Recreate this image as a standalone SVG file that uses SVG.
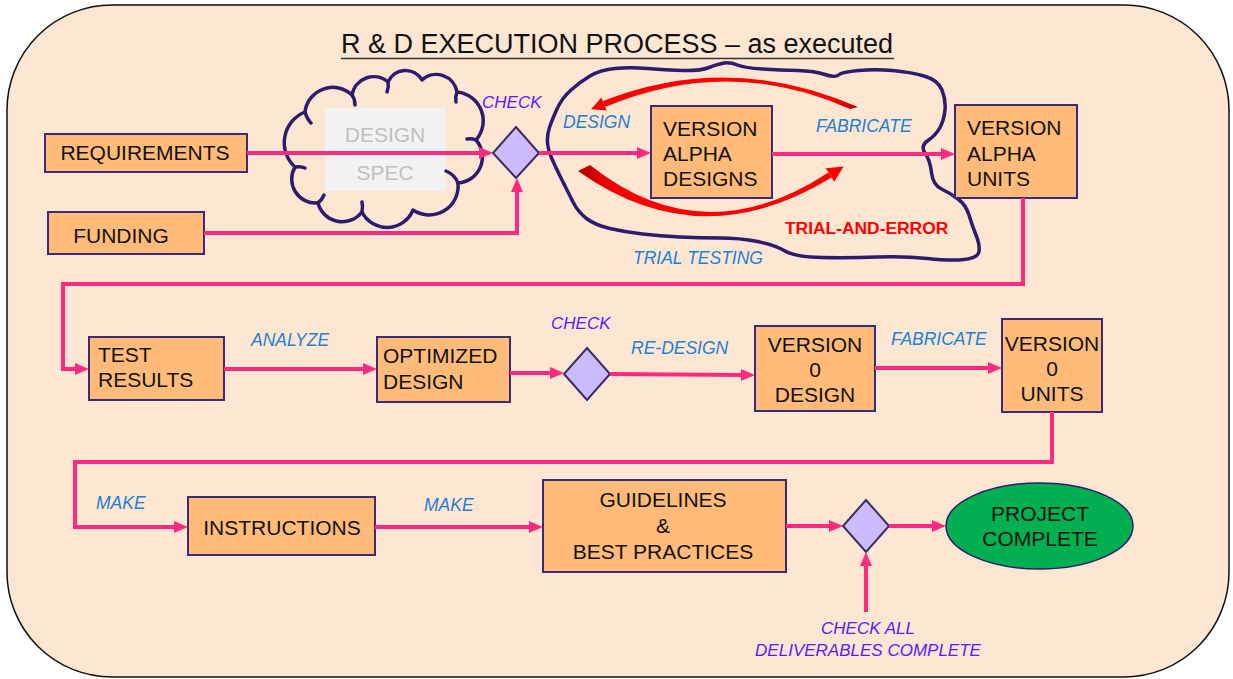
<svg xmlns="http://www.w3.org/2000/svg" width="1233" height="679" viewBox="0 0 1233 679">
  <style>
    .box { fill: #ffbb77; stroke: #3a2a78; stroke-width: 2; }
    .dia { fill: #ccbbff; stroke: #3a2a66; stroke-width: 2; }
    .t { font-family: "Liberation Sans", Arial, sans-serif; font-size: 21px; fill: #111; }
    .tc { text-anchor: middle; }
    .lbl { font-family: "Liberation Sans", Arial, sans-serif; font-size: 17.5px; font-style: italic; fill: #1e80d6; }
    .chk { font-family: "Liberation Sans", Arial, sans-serif; font-size: 17px; font-style: italic; fill: #5a1aff; }
    .conn { fill: none; stroke: #ff2a80; stroke-width: 4; marker-end: url(#ah); }
    .cloud { fill: none; stroke: #2e1a6e; stroke-width: 3.5; stroke-linecap: round; stroke-linejoin: round; }
  </style>
  <defs>
    <marker id="ah" markerUnits="userSpaceOnUse" markerWidth="14" markerHeight="14" viewBox="0 0 14 14" refX="3" refY="7" orient="auto">
      <path d="M0,1 L14,7 L0,13 z" fill="#ff2a80"/>
    </marker>
    <linearGradient id="redTop" gradientUnits="userSpaceOnUse" x1="600" y1="0" x2="860" y2="0">
      <stop offset="0" stop-color="#ff0000"/>
      <stop offset="0.9" stop-color="#ff0000"/>
      <stop offset="1" stop-color="#b00000"/>
    </linearGradient>
    <linearGradient id="redBot" gradientUnits="userSpaceOnUse" x1="576" y1="0" x2="845" y2="0">
      <stop offset="0" stop-color="#a80000"/>
      <stop offset="0.08" stop-color="#e00000"/>
      <stop offset="0.2" stop-color="#ff0000"/>
      <stop offset="1" stop-color="#ff0000"/>
    </linearGradient>
  </defs>

  <!-- page frame -->
  <rect x="7" y="5" width="1222" height="672" rx="105" ry="105" fill="#fde7d3" stroke="#111" stroke-width="1.5"/>

  <!-- title -->
  <g id="title">
    <text x="617" y="53" class="t tc" style="font-size:27px">R &amp; D EXECUTION PROCESS – as executed</text>
    <line x1="341" y1="58.5" x2="894" y2="58.5" stroke="#333" stroke-width="1.5"/>
  </g>

  <!-- design spec cloud -->
  <g id="design-spec">
    <rect x="325" y="108" width="121" height="83" fill="#f2f2f2"/>
    <text x="385" y="142" class="t tc" style="fill:#c0c0c0">DESIGN</text>
    <text x="385" y="180" class="t tc" style="fill:#c0c0c0">SPEC</text>
    <path class="cloud" d="M305,112 A28,28 0 0 1 352,95 A22,22 0 0 1 388,82 A19,19 0 0 1 422,80 A21,21 0 0 1 457,92 A29,29 0 0 1 476,140 A26,26 0 0 1 458,183 A29,29 0 0 1 413,210 A28,28 0 0 1 362,212 A25,25 0 0 1 318,203 A24,24 0 0 1 295,167 A33,33 0 0 1 305,112 Z"/>
    <path class="cloud" d="M305,112 q2,7 6,11 M352,95 q3,4 3,10 M388,82 q1,5 -1,10 M457,92 q-2,5 -1,10 M476,140 q-5,-2 -9,-1 M458,183 q-3,-8 -12,-12 M362,212 q1,-6 0,-10 M318,203 q4,-3 6,-8 M295,167 q6,-1 10,1"/>
  </g>

  <!-- trial-and-error cloud -->
  <g id="trial-cloud">
    <path class="cloud" d="M549.5,127.5 Q552,120 557,109 Q562,98 571,90 Q580,82 590,76 Q600,70 615,68.5 Q630,67 647.5,68.5 Q665,70 682.5,70.5 Q700,71 709,67.5 Q718,64 724,63 Q730,62 737.5,65 Q745,68 762.5,69 Q780,70 797.5,70.5 Q815,71 825,74.5 Q835,78 838.5,75 Q842,72 858.5,70.5 Q875,69 892.5,70.5 Q910,72 924,76 Q938,80 942,90 Q946,100 945,110 Q944,120 940,127.5 Q936,135 928,140.5 Q920,146 925,153 Q930,160 931.5,172.5 Q933,185 941.5,189 Q950,193 958,199 Q966,205 969,215 Q972,225 976,235 Q980,245 979,251.5 Q978,258 964,259.5 Q950,261 927.5,258.5 Q905,256 877.5,257 Q850,258 822.5,257.5 Q795,257 785,251 Q775,245 757.5,241.5 Q740,238 720,238 Q700,238 680,237 Q660,236 642.5,234 Q625,232 610,228.5 Q595,225 586.5,218.5 Q578,212 573,202 Q568,192 562,180 Q556,168 552,159 Q548,150 547.5,142.5 Q547,135 549.5,127.5 Z"/>
    <!-- trial-and-error loop arrows -->
    <path d="M858,107 Q730,51 603,101 L605,107 Q730,55 850,109 Z" fill="url(#redTop)"/>
    <path d="M591,109.3 L606.6,110.5 L601.4,97.5 Z" fill="#ff0000"/>
    <path d="M578,171 Q700,258 831.6,177.6 L828.4,172.4 Q703,255 590,165 Z" fill="url(#redBot)"/>
    <path d="M843.6,166.6 L834.2,181.8 L825.8,168.2 Z" fill="#ff0000"/>
    <text x="785" y="234" style="font-family:'Liberation Sans',Arial,sans-serif;font-size:17.4px;font-weight:bold;fill:#ff0000">TRIAL-AND-ERROR</text>
  </g>

  <!-- process nodes -->
  <g id="requirements">
    <rect class="box" x="45" y="134" width="202" height="38"/>
    <text x="145" y="160" class="t tc">REQUIREMENTS</text>
  </g>
  <g id="funding">
    <rect class="box" x="48" y="212" width="156" height="42"/>
    <text x="121" y="243" class="t tc">FUNDING</text>
  </g>
  <g id="check-spec">
    <polygon class="dia" points="516,127 539,153 516,178 493,153"/>
  </g>
  <g id="alpha-designs">
    <rect class="box" x="651" y="106" width="121" height="92"/>
    <text x="663" y="136" class="t">VERSION</text>
    <text x="663" y="161" class="t">ALPHA</text>
    <text x="663" y="186" class="t">DESIGNS</text>
  </g>
  <g id="alpha-units">
    <rect class="box" x="955" y="105" width="122" height="93"/>
    <text x="967" y="135" class="t">VERSION</text>
    <text x="967" y="161" class="t">ALPHA</text>
    <text x="967" y="186" class="t">UNITS</text>
  </g>
  <g id="test-results">
    <rect class="box" x="89" y="337" width="135" height="63"/>
    <text x="98" y="362" class="t">TEST</text>
    <text x="98" y="387" class="t">RESULTS</text>
  </g>
  <g id="optimized-design">
    <rect class="box" x="377" y="337" width="133" height="65"/>
    <text x="383" y="363" class="t">OPTIMIZED</text>
    <text x="383" y="389" class="t">DESIGN</text>
  </g>
  <g id="check-redesign">
    <polygon class="dia" points="587,348 610,374 587,400 564,374"/>
  </g>
  <g id="v0-design">
    <rect class="box" x="755" y="326" width="120" height="85"/>
    <text x="815" y="352" class="t tc">VERSION</text>
    <text x="815" y="377" class="t tc">0</text>
    <text x="815" y="402" class="t tc">DESIGN</text>
  </g>
  <g id="v0-units">
    <rect class="box" x="1002" y="319" width="100" height="93"/>
    <text x="1052" y="351" class="t tc">VERSION</text>
    <text x="1052" y="376" class="t tc">0</text>
    <text x="1052" y="401" class="t tc">UNITS</text>
  </g>
  <g id="instructions">
    <rect class="box" x="188" y="497" width="187" height="58"/>
    <text x="282" y="535" class="t tc">INSTRUCTIONS</text>
  </g>
  <g id="guidelines">
    <rect class="box" x="543" y="480" width="243" height="92"/>
    <text x="663" y="507" class="t tc">GUIDELINES</text>
    <text x="663" y="533" class="t tc">&amp;</text>
    <text x="663" y="559" class="t tc">BEST PRACTICES</text>
  </g>
  <g id="check-final">
    <polygon class="dia" points="866,500 889,526 866,552 843,526"/>
  </g>
  <g id="project-complete">
    <ellipse cx="1039.5" cy="526" rx="93.5" ry="43" fill="#00b050" stroke="#2e1a6e" stroke-width="1.5"/>
    <text x="1040" y="521" class="t tc">PROJECT</text>
    <text x="1040" y="546" class="t tc">COMPLETE</text>
  </g>

  <!-- connectors -->
  <g id="connectors">
    <path class="conn" d="M247,153 H482"/>
    <path class="conn" d="M204,233 H517 V189"/>
    <path class="conn" d="M539,153 H640"/>
    <path class="conn" d="M772,154 H944"/>
    <path class="conn" d="M1023,198 V284 H63 V369 H78"/>
    <path class="conn" d="M224,369 H366"/>
    <path class="conn" d="M510,373 H553"/>
    <path class="conn" d="M610,374 L744,375"/>
    <path class="conn" d="M875,368 H991"/>
    <path class="conn" d="M1052,412 V462 H75 V527 H177"/>
    <path class="conn" d="M375,527 H532"/>
    <path class="conn" d="M786,526 H832"/>
    <path class="conn" d="M889,526 H935"/>
    <path class="conn" d="M866,612 V563"/>
  </g>

  <!-- connector labels -->
  <g id="labels">
    <text x="482" y="108" class="chk">CHECK</text>
    <text x="563" y="128" class="lbl">DESIGN</text>
    <text x="816" y="132" class="lbl">FABRICATE</text>
    <text x="633" y="264" class="lbl">TRIAL TESTING</text>
    <text x="251" y="346" class="lbl">ANALYZE</text>
    <text x="551" y="329" class="chk">CHECK</text>
    <text x="631" y="354" class="lbl">RE-DESIGN</text>
    <text x="891" y="345" class="lbl">FABRICATE</text>
    <text x="96" y="509" class="lbl">MAKE</text>
    <text x="424" y="511" class="lbl">MAKE</text>
    <text x="868" y="634" class="chk tc">CHECK ALL</text>
    <text x="868" y="656" class="chk tc">DELIVERABLES COMPLETE</text>
  </g>
</svg>
